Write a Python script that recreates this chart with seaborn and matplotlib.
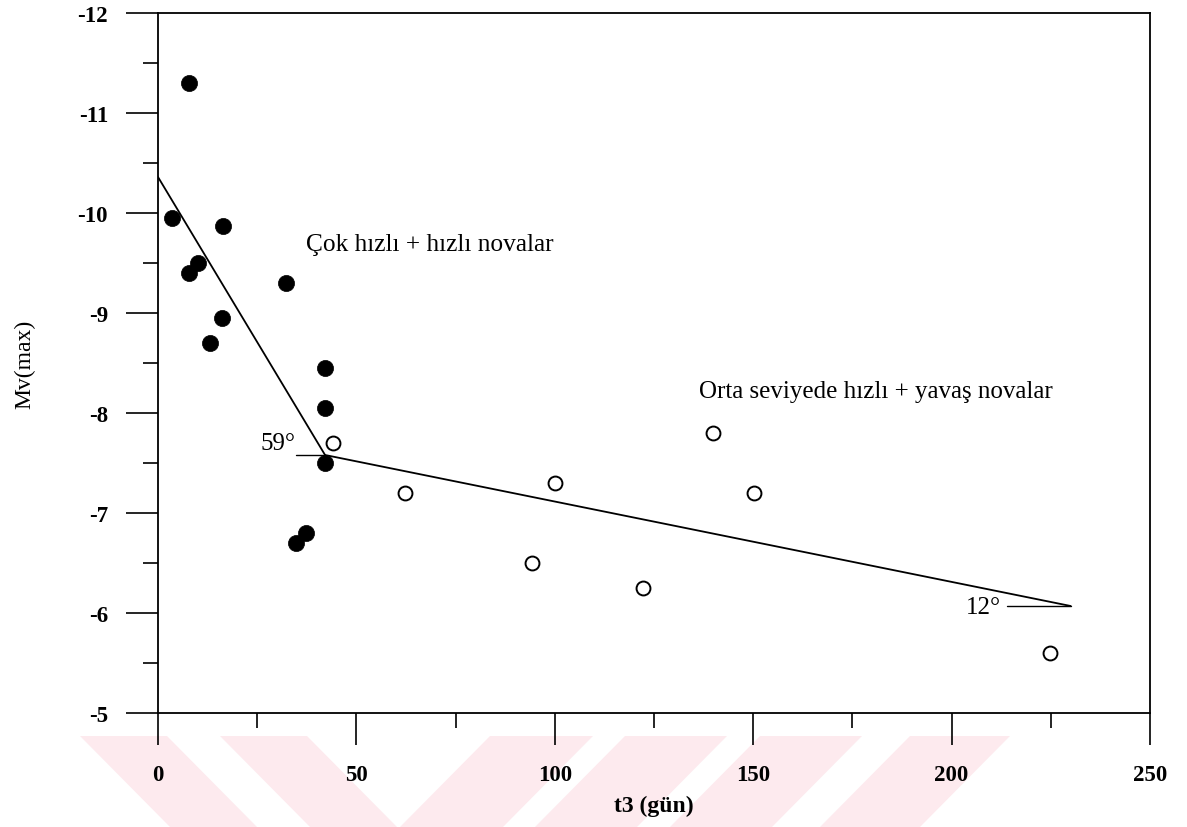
import matplotlib
matplotlib.use("Agg")
import matplotlib.pyplot as plt
from matplotlib.patches import Polygon
from matplotlib.ticker import MultipleLocator
import seaborn as sns
import pandas as pd

# ---- data ----
fast_t3 = [7.8, 3.5, 16.4, 10.1, 7.8, 32.3, 16.1, 13.1, 42.1, 42.1, 42.1, 34.8, 37.3]
fast_mv = [-11.3, -9.95, -9.87, -9.5, -9.4, -9.3, -8.95, -8.7, -8.45, -8.05, -7.5, -6.7, -6.8]
slow_t3 = [44.1, 62.2, 100.0, 94.3, 122.2, 139.9, 150.2, 224.8]
slow_mv = [-7.7, -7.2, -7.3, -6.5, -6.25, -7.8, -7.2, -5.6]
fit1_t3 = [0.0, 42.1]
fit1_mv = [-10.36, -7.58]
fit2_t3 = [42.1, 230.0]
fit2_mv = [-7.58, -6.07]
ang1_t3 = [34.8, 42.1]
ang1_mv = [-7.58, -7.58]
ang2_t3 = [214.0, 230.0]
ang2_mv = [-6.07, -6.07]
x_ticks = [0, 50, 100, 150, 200, 250]
y_ticks = [-12, -11, -10, -9, -8, -7, -6, -5]

sns.set_style("ticks")
plt.rcParams['font.family'] = ['Liberation Serif', 'DejaVu Serif']
plt.rcParams['text.color'] = 'black'
plt.rcParams['axes.labelcolor'] = 'black'
plt.rcParams['xtick.color'] = 'black'
plt.rcParams['ytick.color'] = 'black'

W, H = 1187, 828
fig = plt.figure(figsize=(W / 100, H / 100), dpi=100)
ax = fig.add_axes([158 / W, 1 - 714 / H, (1150 - 158) / W, (714 - 14) / H])
ax.set_facecolor('none')
ax.set_zorder(2)

# watermark stripes (pixel coords)
pink = '#fdeaee'
top_y, bot_y, shift = 737, 828, 90
back = [(80, 167), (220, 307)]
fwd = [(490, 593), (625, 727), (760, 862), (910, 1010)]
def px(x, y):
    return (x / W, 1 - y / H)
for a, b in back:
    fig.patches.append(Polygon([px(a, top_y), px(b, top_y), px(b + shift, bot_y), px(a + shift, bot_y)],
                               closed=True, transform=fig.transFigure, facecolor=pink, edgecolor='none', zorder=-5))
for a, b in fwd:
    fig.patches.append(Polygon([px(a, top_y), px(b, top_y), px(b - shift, bot_y), px(a - shift, bot_y)],
                               closed=True, transform=fig.transFigure, facecolor=pink, edgecolor='none', zorder=-5))

df_fast = pd.DataFrame({'t3': fast_t3, 'mv': fast_mv})
df_slow = pd.DataFrame({'t3': slow_t3, 'mv': slow_mv})

ax.plot(fit1_t3, fit1_mv, color='black', lw=1.3, zorder=2)
ax.plot(fit2_t3, fit2_mv, color='black', lw=1.3, zorder=2)
ax.plot(ang1_t3, ang1_mv, color='black', lw=1.0, zorder=2)
ax.plot(ang2_t3, ang2_mv, color='black', lw=1.0, zorder=2)

sns.scatterplot(data=df_fast, x='t3', y='mv', ax=ax, s=135, color='black',
                edgecolor='black', linewidth=0.5, zorder=3)
sns.scatterplot(data=df_slow, x='t3', y='mv', ax=ax, s=100, facecolor='white',
                edgecolor='black', linewidth=1.4, zorder=3)

ax.set_xlim(0, 250)
ax.set_ylim(-5, -12)
ax.set_xticks(x_ticks)
ax.set_yticks(y_ticks)
ax.set_xticklabels([str(v) for v in x_ticks])
ax.set_yticklabels([str(v) for v in y_ticks])
ax.xaxis.set_minor_locator(MultipleLocator(25))
ax.yaxis.set_minor_locator(MultipleLocator(0.5))
ax.tick_params(which='major', direction='out', length=23, width=1.2, color='black', pad=13,
               labelsize=16.5, labelcolor='black')
ax.tick_params(which='minor', direction='out', length=10.5, width=1.2, color='black')
ax.tick_params(axis='x', which='major', pad=14)
for lab in ax.get_xticklabels() + ax.get_yticklabels():
    lab.set_fontweight('bold')
for sp in ax.spines.values():
    sp.set_visible(True)
    sp.set_linewidth(1.3)
    sp.set_color('black')

ax.set_xlabel('t3 (gün)', fontsize=17, fontweight='bold', labelpad=7, color='black')
ax.set_ylabel('Mv(max)', fontsize=17, labelpad=30, color='black')

ax.text(37.3, -9.69, 'Çok hızlı + hızlı novalar', fontsize=18.3, ha='left', va='center', color='black')
ax.text(136.3, -8.22, 'Orta seviyede hızlı + yavaş novalar', fontsize=18, ha='left', va='center', color='black')
ax.text(34.7, -7.70, '59°', fontsize=18, ha='right', va='center', color='black')
ax.text(212.5, -6.06, '12°', fontsize=18, ha='right', va='center', color='black')

fig.savefig('out.png', dpi=100, facecolor='white')
